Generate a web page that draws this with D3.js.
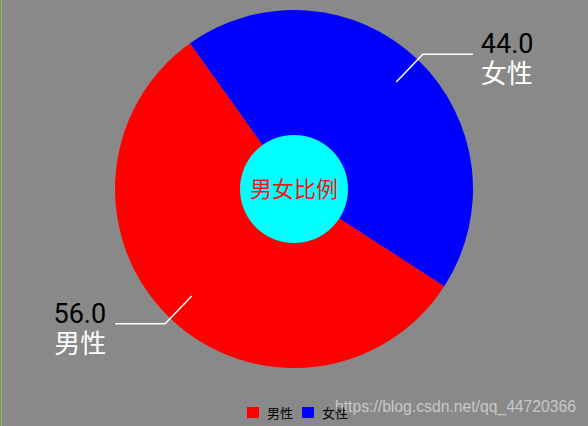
<!DOCTYPE html>
<html>
<head>
<meta charset="utf-8">
<script src="https://cdn.jsdelivr.net/npm/d3@7"></script>
<style>
  html, body { margin: 0; padding: 0; background: #898989; }
  svg { display: block; }
</style>
</head>
<body>
<script>
// data
var categories = ["男性", "女性"];
var values = [56.0, 44.0];
var colors = ["#ff0000", "#0000ff"];
var centerText = "男女比例";
var watermark = "https://blog.csdn.net/qq_44720366";

var w = 588;
var h = 426;
var cx = 294, cy = 189;
var outerR = 179, holeR = 54;

var svg = d3.select("body")
            .append("svg")
            .attr("width", w)
            .attr("height", h);

svg.append("rect")
   .attr("width", w)
   .attr("height", h)
   .attr("fill", "#898989");

// thin green edge on the left of the screenshot
svg.append("rect")
   .attr("x", 1)
   .attr("y", 0)
   .attr("width", 1)
   .attr("height", h)
   .attr("fill", "#8fbf4f");

var pie = d3.pie()
    .sort(null)
    .startAngle(122.9 * Math.PI / 180)
    .endAngle(122.9 * Math.PI / 180 + 2 * Math.PI);

var arcs = pie(values);

var arc = d3.arc().innerRadius(0).outerRadius(outerR);

var g = svg.append("g")
    .attr("transform", "translate(" + cx + "," + cy + ")");

g.selectAll("path.slice")
 .data(arcs)
 .enter()
 .append("path")
 .attr("class", "slice")
 .attr("d", arc)
 .attr("fill", function(d, i) { return colors[i]; });

// hole
g.append("circle")
 .attr("r", holeR)
 .attr("fill", "#00ffff");

g.append("text")
 .text(centerText)
 .attr("text-anchor", "middle")
 .attr("dy", "0.36em")
 .attr("font-family", "'Noto Sans CJK SC', sans-serif")
 .attr("font-size", "22px")
 .attr("fill", "#ff1010");

// leader lines + labels
var r1 = 148, r2 = 186.5, lineLen = 50;

function pt(a, r) {
  return [Math.sin(a) * r, -Math.cos(a) * r];
}

arcs.forEach(function(d, i) {
  var mid = (d.startAngle + d.endAngle) / 2;
  var p1 = pt(mid, r1);
  var p2 = pt(mid, r2);
  var right = p2[0] > 0;
  var p3 = [p2[0] + (right ? lineLen : -lineLen), p2[1]];

  g.append("polyline")
   .attr("points", [p1, p2, p3].map(function(p) { return p.join(","); }).join(" "))
   .attr("fill", "none")
   .attr("stroke", "#ffffff")
   .attr("stroke-width", 1.5);

  var tx = p3[0] + (right ? 8 : -9);
  var anchor = right ? "start" : "end";

  // value, black
  g.append("text")
   .attr("x", tx)
   .attr("y", p3[1] - 1)
   .attr("text-anchor", anchor)
   .attr("font-family", "Roboto, sans-serif")
   .attr("font-size", "27px")
   .attr("fill", "#000000")
   .text(d3.format(".1f")(values[i]));

  // category, white
  g.append("text")
   .attr("x", tx)
   .attr("y", p3[1] + 29)
   .attr("text-anchor", anchor)
   .attr("font-family", "'Noto Sans CJK SC', sans-serif")
   .attr("font-size", "26px")
   .attr("fill", "#ffffff")
   .text(categories[i]);
});

// legend
var legend = svg.append("g")
    .attr("transform", "translate(247,407)");

var item = legend.selectAll("g")
    .data(categories)
    .enter()
    .append("g")
    .attr("transform", function(d, i) { return "translate(" + (i * 55) + ",0)"; });

item.append("rect")
    .attr("width", 12)
    .attr("height", 11)
    .attr("fill", function(d, i) { return colors[i]; });

item.append("text")
    .attr("x", 20)
    .attr("y", 11)
    .attr("font-family", "'Noto Sans CJK SC', sans-serif")
    .attr("font-size", "13px")
    .attr("fill", "#000000")
    .text(function(d) { return d; });

// watermark
svg.append("text")
   .attr("x", 335)
   .attr("y", 412)
   .attr("font-family", "'Liberation Sans', Arial, sans-serif")
   .attr("font-size", "16px")
   .attr("textLength", 241)
   .attr("lengthAdjust", "spacingAndGlyphs")
   .attr("fill", "#ffffff")
   .attr("fill-opacity", 0.55)
   .text(watermark);
</script>
</body>
</html>
